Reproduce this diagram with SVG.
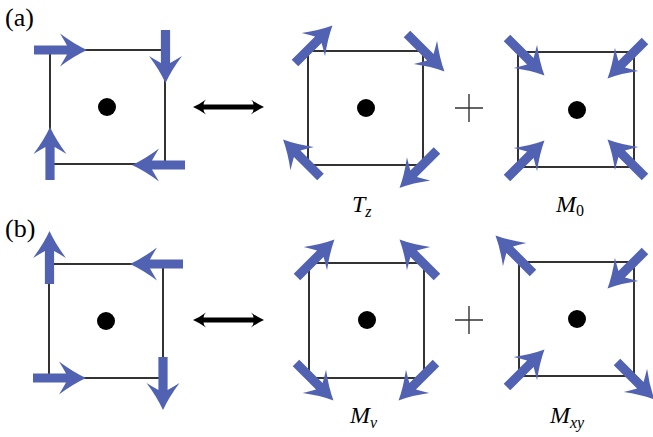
<svg xmlns="http://www.w3.org/2000/svg" xmlns:xlink="http://www.w3.org/1999/xlink" width="653" height="437" viewBox="0 0 653 437">
<style>
.sq{fill:none;stroke:#000;stroke-width:1.6}
.dot{fill:#000}
.ar{fill:#5262B3}
.plus{stroke:#333;stroke-width:1.4}
.lb{font-family:"Liberation Serif","Times New Roman","DejaVu Serif",serif;fill:#000}
.mt{font-family:"Liberation Serif","Times New Roman","DejaVu Serif",serif;font-style:italic;font-size:24px;fill:#000}
</style>
<defs>
<path id="ba" class="ar" d="M0,-4.6 L33,-4.6 Q30,-10 26,-16.5 Q40,-6 53,0 Q40,6 26,16.5 Q30,10 33,4.6 L0,4.6 Z"/>
<path id="dbl" d="M0,0 Q7,-3 13,-7.5 Q10.5,-5 10.5,-2.6 L60.5,-2.6 Q60.5,-5 58,-7.5 Q64,-3 71,0 Q64,3 58,7.5 Q60.5,5 60.5,2.6 L10.5,2.6 Q10.5,5 13,7.5 Q7,3 0,0 Z" fill="#000"/>
</defs>
<text class="lb" x="5" y="26" font-size="26">(a)</text>
<text class="lb" x="5" y="237" font-size="26">(b)</text>
<g id="a-left">
<rect class="sq" x="50" y="50" width="115" height="114"/>
<circle class="dot" cx="107" cy="107" r="9"/>
<use xlink:href="#ba" transform="translate(34,50)"/>
<use xlink:href="#ba" transform="translate(165.5,30) rotate(90)"/>
<use xlink:href="#ba" transform="translate(50,180) rotate(-90)"/>
<use xlink:href="#ba" transform="translate(185,165) rotate(180)"/>
</g>
<g id="a-Tz">
<rect class="sq" x="308" y="51" width="115" height="114"/>
<circle class="dot" cx="366" cy="108" r="9"/>
<use xlink:href="#ba" transform="translate(295,63) rotate(-45)"/>
<use xlink:href="#ba" transform="translate(407,34) rotate(45)"/>
<use xlink:href="#ba" transform="translate(320.5,177) rotate(225)"/>
<use xlink:href="#ba" transform="translate(437,150.5) rotate(135)"/>
<text class="mt" x="352" y="212">T<tspan font-size="16" dy="5">z</tspan></text>
</g>
<g id="a-M0">
<rect class="sq" x="518" y="52" width="116" height="115"/>
<circle class="dot" cx="577" cy="110" r="9"/>
<use xlink:href="#ba" transform="translate(507,38) rotate(45)"/>
<use xlink:href="#ba" transform="translate(645,41) rotate(135)"/>
<use xlink:href="#ba" transform="translate(507,178) rotate(-45)"/>
<use xlink:href="#ba" transform="translate(645,177) rotate(225)"/>
<text class="mt" x="556" y="212">M<tspan font-size="16" dy="4" font-style="normal">0</tspan></text>
</g>
<g id="b-left">
<rect class="sq" x="49" y="264" width="114" height="114"/>
<circle class="dot" cx="106" cy="321" r="9"/>
<use xlink:href="#ba" transform="translate(49.5,284) rotate(-90)"/>
<use xlink:href="#ba" transform="translate(183,264) rotate(180)"/>
<use xlink:href="#ba" transform="translate(33,378)"/>
<use xlink:href="#ba" transform="translate(163,357) rotate(90)"/>
</g>
<g id="b-Mv">
<rect class="sq" x="309" y="263" width="115" height="115"/>
<circle class="dot" cx="367" cy="320" r="9"/>
<use xlink:href="#ba" transform="translate(297,277) rotate(-45)"/>
<use xlink:href="#ba" transform="translate(437,277) rotate(225)"/>
<use xlink:href="#ba" transform="translate(296,363) rotate(45)"/>
<use xlink:href="#ba" transform="translate(436,363) rotate(135)"/>
<text class="mt" x="350" y="423">M<tspan font-size="16" dy="5">v</tspan></text>
</g>
<g id="b-Mxy">
<rect class="sq" x="519" y="262" width="115" height="114"/>
<circle class="dot" cx="577" cy="319" r="9"/>
<use xlink:href="#ba" transform="translate(533,273) rotate(225)"/>
<use xlink:href="#ba" transform="translate(645,251) rotate(135)"/>
<use xlink:href="#ba" transform="translate(507,387) rotate(-45)"/>
<use xlink:href="#ba" transform="translate(617,362) rotate(45)"/>
<text class="mt" x="550" y="423">M<tspan font-size="16" dy="5">xy</tspan></text>
</g>
<g id="connectors">
<use xlink:href="#dbl" transform="translate(193,107)"/>
<use xlink:href="#dbl" transform="translate(193,320)"/>
<path class="plus" d="M455,108 H483 M469,94 V122"/>
<path class="plus" d="M455,320 H483 M469,306 V334"/>
</g>
</svg>
